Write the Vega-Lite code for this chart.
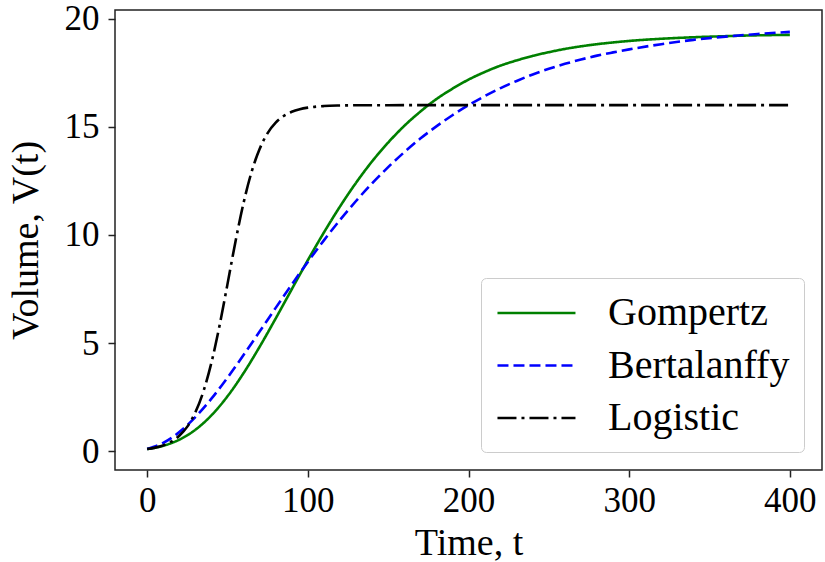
{
  "$schema": "https://vega.github.io/schema/vega-lite/v6.json",
  "autosize": {"type": "none"},
  "width": 707,
  "height": 460,
  "padding": {"left": 115, "top": 10, "right": 3, "bottom": 92},
  "background": "white",
  "config": {
    "view": {"stroke": "#222222", "strokeWidth": 1.5},
    "font": "Liberation Serif",
    "axis": {
      "grid": false,
      "domain": false,
      "tickColor": "#222222",
      "tickWidth": 1.5,
      "tickSize": 7,
      "labelFont": "Liberation Serif",
      "labelFontSize": 35,
      "labelColor": "black",
      "titleFont": "Liberation Serif",
      "titleFontSize": 38,
      "titleFontWeight": "normal",
      "titleColor": "black"
    },
    "legend": {
      "labelFont": "Liberation Serif",
      "labelFontSize": 40,
      "labelColor": "black",
      "labelLimit": 400
    }
  },
  "data": {
    "values": [
      {"t": 0, "V": 0.100, "model": "Gompertz"},
      {"t": 10, "V": 0.250, "model": "Gompertz"},
      {"t": 20, "V": 0.531, "model": "Gompertz"},
      {"t": 30, "V": 0.990, "model": "Gompertz"},
      {"t": 40, "V": 1.658, "model": "Gompertz"},
      {"t": 50, "V": 2.538, "model": "Gompertz"},
      {"t": 60, "V": 3.609, "model": "Gompertz"},
      {"t": 70, "V": 4.827, "model": "Gompertz"},
      {"t": 80, "V": 6.136, "model": "Gompertz"},
      {"t": 90, "V": 7.487, "model": "Gompertz"},
      {"t": 100, "V": 8.830, "model": "Gompertz"},
      {"t": 110, "V": 10.11, "model": "Gompertz"},
      {"t": 120, "V": 11.31, "model": "Gompertz"},
      {"t": 130, "V": 12.41, "model": "Gompertz"},
      {"t": 140, "V": 13.40, "model": "Gompertz"},
      {"t": 150, "V": 14.27, "model": "Gompertz"},
      {"t": 160, "V": 15.04, "model": "Gompertz"},
      {"t": 170, "V": 15.70, "model": "Gompertz"},
      {"t": 180, "V": 16.28, "model": "Gompertz"},
      {"t": 190, "V": 16.76, "model": "Gompertz"},
      {"t": 200, "V": 17.18, "model": "Gompertz"},
      {"t": 210, "V": 17.53, "model": "Gompertz"},
      {"t": 220, "V": 17.83, "model": "Gompertz"},
      {"t": 230, "V": 18.07, "model": "Gompertz"},
      {"t": 240, "V": 18.28, "model": "Gompertz"},
      {"t": 250, "V": 18.45, "model": "Gompertz"},
      {"t": 260, "V": 18.60, "model": "Gompertz"},
      {"t": 270, "V": 18.72, "model": "Gompertz"},
      {"t": 280, "V": 18.82, "model": "Gompertz"},
      {"t": 290, "V": 18.90, "model": "Gompertz"},
      {"t": 300, "V": 18.97, "model": "Gompertz"},
      {"t": 320, "V": 19.07, "model": "Gompertz"},
      {"t": 340, "V": 19.14, "model": "Gompertz"},
      {"t": 360, "V": 19.19, "model": "Gompertz"},
      {"t": 380, "V": 19.23, "model": "Gompertz"},
      {"t": 400, "V": 19.25, "model": "Gompertz"},
      {"t": 0, "V": 0.100, "model": "Bertalanffy"},
      {"t": 10, "V": 0.384, "model": "Bertalanffy"},
      {"t": 20, "V": 0.881, "model": "Bertalanffy"},
      {"t": 30, "V": 1.574, "model": "Bertalanffy"},
      {"t": 40, "V": 2.427, "model": "Bertalanffy"},
      {"t": 50, "V": 3.398, "model": "Bertalanffy"},
      {"t": 60, "V": 4.446, "model": "Bertalanffy"},
      {"t": 70, "V": 5.531, "model": "Bertalanffy"},
      {"t": 80, "V": 6.627, "model": "Bertalanffy"},
      {"t": 90, "V": 7.705, "model": "Bertalanffy"},
      {"t": 100, "V": 8.751, "model": "Bertalanffy"},
      {"t": 110, "V": 9.748, "model": "Bertalanffy"},
      {"t": 120, "V": 10.689, "model": "Bertalanffy"},
      {"t": 130, "V": 11.569, "model": "Bertalanffy"},
      {"t": 140, "V": 12.386, "model": "Bertalanffy"},
      {"t": 150, "V": 13.134, "model": "Bertalanffy"},
      {"t": 160, "V": 13.824, "model": "Bertalanffy"},
      {"t": 170, "V": 14.454, "model": "Bertalanffy"},
      {"t": 180, "V": 15.018, "model": "Bertalanffy"},
      {"t": 190, "V": 15.535, "model": "Bertalanffy"},
      {"t": 200, "V": 15.997, "model": "Bertalanffy"},
      {"t": 210, "V": 16.414, "model": "Bertalanffy"},
      {"t": 220, "V": 16.791, "model": "Bertalanffy"},
      {"t": 230, "V": 17.12, "model": "Bertalanffy"},
      {"t": 240, "V": 17.42, "model": "Bertalanffy"},
      {"t": 250, "V": 17.68, "model": "Bertalanffy"},
      {"t": 260, "V": 17.91, "model": "Bertalanffy"},
      {"t": 270, "V": 18.11, "model": "Bertalanffy"},
      {"t": 280, "V": 18.29, "model": "Bertalanffy"},
      {"t": 290, "V": 18.44, "model": "Bertalanffy"},
      {"t": 300, "V": 18.58, "model": "Bertalanffy"},
      {"t": 320, "V": 18.82, "model": "Bertalanffy"},
      {"t": 340, "V": 19.02, "model": "Bertalanffy"},
      {"t": 360, "V": 19.17, "model": "Bertalanffy"},
      {"t": 380, "V": 19.29, "model": "Bertalanffy"},
      {"t": 400, "V": 19.39, "model": "Bertalanffy"},
      {"t": 0, "V": 0.100, "model": "Logistic"},
      {"t": 5, "V": 0.164, "model": "Logistic"},
      {"t": 10, "V": 0.269, "model": "Logistic"},
      {"t": 15, "V": 0.439, "model": "Logistic"},
      {"t": 20, "V": 0.713, "model": "Logistic"},
      {"t": 25, "V": 1.135, "model": "Logistic"},
      {"t": 30, "V": 1.794, "model": "Logistic"},
      {"t": 35, "V": 2.758, "model": "Logistic"},
      {"t": 40, "V": 4.090, "model": "Logistic"},
      {"t": 45, "V": 5.783, "model": "Logistic"},
      {"t": 50, "V": 7.725, "model": "Logistic"},
      {"t": 55, "V": 9.698, "model": "Logistic"},
      {"t": 60, "V": 11.476, "model": "Logistic"},
      {"t": 65, "V": 12.914, "model": "Logistic"},
      {"t": 70, "V": 13.974, "model": "Logistic"},
      {"t": 75, "V": 14.707, "model": "Logistic"},
      {"t": 80, "V": 15.190, "model": "Logistic"},
      {"t": 85, "V": 15.498, "model": "Logistic"},
      {"t": 90, "V": 15.692, "model": "Logistic"},
      {"t": 95, "V": 15.812, "model": "Logistic"},
      {"t": 100, "V": 15.885, "model": "Logistic"},
      {"t": 110, "V": 15.958, "model": "Logistic"},
      {"t": 120, "V": 15.984, "model": "Logistic"},
      {"t": 130, "V": 15.994, "model": "Logistic"},
      {"t": 140, "V": 15.998, "model": "Logistic"},
      {"t": 150, "V": 15.999, "model": "Logistic"},
      {"t": 200, "V": 16.0, "model": "Logistic"},
      {"t": 250, "V": 16.0, "model": "Logistic"},
      {"t": 300, "V": 16.0, "model": "Logistic"},
      {"t": 350, "V": 16.0, "model": "Logistic"},
      {"t": 400, "V": 16.0, "model": "Logistic"}
    ]
  },
  "mark": {"type": "line", "strokeWidth": 2.6, "interpolate": "monotone", "clip": true},
  "encoding": {
    "x": {
      "field": "t",
      "type": "quantitative",
      "scale": {"domain": [-20, 420], "nice": false, "zero": false},
      "axis": {"values": [0, 100, 200, 300, 400], "title": "Time, t", "labelPadding": 6, "titlePadding": 6}
    },
    "y": {
      "field": "V",
      "type": "quantitative",
      "scale": {"domain": [-0.87, 20.4], "nice": false, "zero": false},
      "axis": {"values": [0, 5, 10, 15, 20], "title": "Volume, V(t)", "labelPadding": 9, "titlePadding": 19}
    },
    "color": {
      "field": "model",
      "type": "nominal",
      "scale": {"domain": ["Gompertz", "Bertalanffy", "Logistic"], "range": ["#008000", "#0000ff", "#000000"]},
      "legend": {
        "title": null,
        "orient": "none",
        "legendX": 366,
        "legendY": 268,
        "symbolType": "M-0.95,0H3.05",
        "symbolSize": 1521,
        "symbolStrokeWidth": 2.6,
        "labelOffset": 71,
        "padding": 14,
        "rowPadding": 11.5,
        "strokeColor": "#cccccc",
        "fillColor": "white",
        "cornerRadius": 5
      }
    },
    "strokeDash": {
      "field": "model",
      "type": "nominal",
      "scale": {"domain": ["Gompertz", "Bertalanffy", "Logistic"], "range": [[1, 0], [11, 5], [19, 5, 3, 5]]},
      "legend": null
    }
  }
}
